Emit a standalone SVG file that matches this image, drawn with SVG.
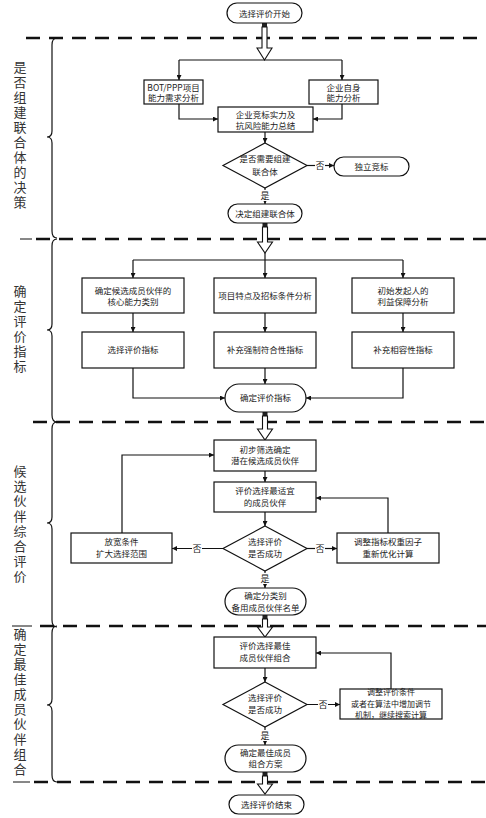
<svg xmlns="http://www.w3.org/2000/svg" width="486" height="818" viewBox="0 0 486 818">
<defs>
<marker id="ah" viewBox="0 0 10 10" refX="10" refY="5" markerWidth="6" markerHeight="5" markerUnits="userSpaceOnUse" orient="auto">
<path d="M0,0 L10,5 L0,10 z" fill="#111"/>
</marker>
</defs>
<style>
.box{fill:#fff;stroke:#111;stroke-width:1.2}
.t{font-family:"Noto Sans CJK SC","Liberation Serif",serif;font-size:8.5px;fill:#222;text-anchor:middle}
.t3{font-family:"Noto Sans CJK SC","Liberation Serif",serif;font-size:8px;fill:#222;text-anchor:middle}
.lab{font-family:"Noto Sans CJK SC","Liberation Serif",serif;font-size:9px;fill:#222;text-anchor:middle}
.sec{font-family:"Noto Sans CJK SC","Liberation Serif",serif;font-size:13px;fill:#333;writing-mode:vertical-rl;letter-spacing:2px}
.c{fill:none;stroke:#111;stroke-width:1.2}
.ca{fill:none;stroke:#111;stroke-width:1.2;marker-end:url(#ah)}
.dash{fill:none;stroke:#111;stroke-width:2.6;stroke-dasharray:14 9}
.thin{fill:none;stroke:#111;stroke-width:1}
.brace{fill:none;stroke:#111;stroke-width:1.2}
.hol{fill:#fff;stroke:#111;stroke-width:1.1}
.dk{fill:#222}
</style>

<g id="separators">
<line class="dash" x1="26" y1="38" x2="486" y2="38"/>
<line class="thin" x1="20" y1="239" x2="32" y2="239"/>
<line class="dash" x1="36" y1="239" x2="486" y2="239"/>
<line class="dash" x1="33" y1="422" x2="486" y2="422"/>
<line class="thin" x1="12" y1="626" x2="32" y2="626"/>
<line class="dash" x1="40" y1="626" x2="486" y2="626"/>
<line class="thin" x1="13" y1="782" x2="30" y2="782"/>
<line class="dash" x1="34" y1="782" x2="486" y2="782"/>
</g>

<g id="braces">
<path class="brace" d="M57,38 Q52,38 52,45 L52,131 Q52,137 47,137 Q52,137 52,143 L52,231 Q52,238 57,238"/>
<path class="brace" d="M57,239 Q52,239 52,246 L52,324 Q52,330 47,330 Q52,330 52,336 L52,415 Q52,422 57,422"/>
<path class="brace" d="M57,422 Q52,422 52,429 L52,517 Q52,523 47,523 Q52,523 52,529 L52,620 Q52,627 57,627"/>
<path class="brace" d="M57,626 Q52,626 52,633 L52,699 Q52,705 47,705 Q52,705 52,711 L52,775 Q52,782 57,782"/>
</g>

<g id="section-labels">
<text class="sec" x="20" y="61">是否组建联合体的决策</text>
<text class="sec" x="20" y="285">确定评价指标</text>
<text class="sec" x="20" y="465">候选伙伴综合评价</text>
<text class="sec" x="20" y="628">确定最佳成员伙伴组合</text>
</g>

<g id="connectors">
<rect class="dk" x="262" y="23" width="5" height="4"/>
<polygon class="hol" points="262,27 267,27 267,48 272,48 264.5,60 257,48 262,48"/>
<rect class="dk" x="262.5" y="223" width="5" height="4"/>
<polygon class="hol" points="262.5,227 267.5,227 267.5,242 272.5,242 265,253 257.5,242 262.5,242"/>
<rect class="dk" x="262.5" y="412" width="5" height="4"/>
<polygon class="hol" points="262.5,416 267.5,416 267.5,429 272.5,429 265,440 257.5,429 262.5,429"/>
<rect class="dk" x="262.5" y="615" width="5" height="4"/>
<polygon class="hol" points="262.5,619 267.5,619 267.5,627 272.5,627 265,637 257.5,627 262.5,627"/>
<rect class="dk" x="262.5" y="772" width="5" height="4"/>
<polygon class="hol" points="262.5,776 267.5,776 267.5,784 272.5,784 265,794 257.5,784 262.5,784"/>

<line class="c" x1="179" y1="60" x2="342" y2="60"/>
<line class="ca" x1="179" y1="60" x2="179" y2="80"/>
<line class="ca" x1="342" y1="60" x2="342" y2="80"/>
<path class="ca" d="M179,104 V119 H218"/>
<path class="ca" d="M342,104 V119 H313"/>
<line class="ca" x1="265" y1="132" x2="265" y2="143"/>
<line class="ca" x1="307" y1="165.5" x2="334" y2="165.5"/>
<line class="ca" x1="265" y1="188" x2="265" y2="204"/>

<line class="c" x1="133" y1="260" x2="403" y2="260"/>
<line class="ca" x1="133" y1="260" x2="133" y2="278"/>
<line class="ca" x1="265" y1="253" x2="265" y2="278"/>
<line class="ca" x1="403" y1="260" x2="403" y2="278"/>
<line class="ca" x1="133" y1="313" x2="133" y2="332"/>
<line class="ca" x1="265" y1="313" x2="265" y2="332"/>
<line class="ca" x1="403" y1="313" x2="403" y2="332"/>
<line class="ca" x1="265" y1="368" x2="265" y2="384"/>
<path class="ca" d="M133,368 V398 H225"/>
<path class="ca" d="M403,368 V398 H306"/>

<line class="ca" x1="265" y1="471" x2="265" y2="482"/>
<line class="ca" x1="265" y1="512" x2="265" y2="526"/>
<line class="ca" x1="223" y1="548.5" x2="172" y2="548.5"/>
<line class="ca" x1="307" y1="548.5" x2="337" y2="548.5"/>
<path class="ca" d="M122,533 V455 H214"/>
<path class="ca" d="M388,533 V498 H316"/>
<line class="ca" x1="265" y1="571" x2="265" y2="588"/>

<line class="ca" x1="265" y1="668" x2="265" y2="682"/>
<line class="ca" x1="307" y1="704.5" x2="340" y2="704.5"/>
<path class="ca" d="M391,689 V653 H316"/>
<line class="ca" x1="265" y1="727" x2="265" y2="745"/>

<rect x="315" y="159" width="10" height="12" fill="#fff"/>
<text class="lab" x="320" y="168.5">否</text>
<rect x="260" y="190" width="10" height="11" fill="#fff"/>
<text class="lab" x="265" y="198.5">是</text>
<rect x="192" y="542" width="10" height="12" fill="#fff"/>
<text class="lab" x="197" y="551.5">否</text>
<rect x="315" y="542" width="10" height="12" fill="#fff"/>
<text class="lab" x="320" y="551.5">否</text>
<rect x="260" y="573" width="10" height="11" fill="#fff"/>
<text class="lab" x="265" y="582">是</text>
<rect x="318" y="698" width="10" height="12" fill="#fff"/>
<text class="lab" x="323" y="707.5">否</text>
<rect x="260" y="730" width="10" height="11" fill="#fff"/>
<text class="lab" x="265" y="739">是</text>
</g>

<g id="start">
<rect class="box" x="227" y="3" width="75" height="20" rx="10"/>
<text class="t" x="264.5" y="16.5">选择评价开始</text>
</g>

<g id="bot-analysis">
<rect class="box" x="144" y="80" width="59" height="24"/>
<text class="t" x="173.5" y="90.5">BOT/PPP项目</text>
<text class="t" x="173.5" y="101">能力需求分析</text>
</g>
<g id="self-analysis">
<rect class="box" x="309" y="80" width="69" height="24"/>
<text class="t" x="343.5" y="90.5">企业自身</text>
<text class="t" x="343.5" y="101">能力分析</text>
</g>
<g id="summary">
<rect class="box" x="218" y="107" width="95" height="25"/>
<text class="t" x="265.5" y="117.5">企业竞标实力及</text>
<text class="t" x="265.5" y="128.5">抗风险能力总结</text>
</g>
<g id="need-consortium">
<polygon class="box" points="265,143 307,165.5 265,188 223,165.5"/>
<text class="t" x="265" y="161.5">是否需要组建</text>
<text class="t" x="265" y="175">联合体</text>
</g>
<g id="independent">
<rect class="box" x="334" y="157" width="75" height="19" rx="9.5"/>
<text class="t" x="371.5" y="169.5">独立竞标</text>
</g>
<g id="decide-consortium">
<rect class="box" x="228" y="204" width="74" height="19" rx="9.5"/>
<text class="t" x="265" y="216.5">决定组建联合体</text>
</g>

<g id="core-ability">
<rect class="box" x="82" y="278" width="102" height="35"/>
<text class="t" x="133" y="294">确定候选成员伙伴的</text>
<text class="t" x="133" y="305">核心能力类别</text>
</g>
<g id="project-features">
<rect class="box" x="214" y="278" width="102" height="35"/>
<text class="t" x="265" y="299">项目特点及招标条件分析</text>
</g>
<g id="initiator-interest">
<rect class="box" x="352" y="278" width="102" height="35"/>
<text class="t" x="403" y="294">初始发起人的</text>
<text class="t" x="403" y="305">利益保障分析</text>
</g>
<g id="select-index">
<rect class="box" x="82" y="332" width="102" height="36"/>
<text class="t" x="133" y="353">选择评价指标</text>
</g>
<g id="mandatory-index">
<rect class="box" x="214" y="332" width="102" height="36"/>
<text class="t" x="265" y="353">补充强制符合性指标</text>
</g>
<g id="compat-index">
<rect class="box" x="352" y="332" width="102" height="36"/>
<text class="t" x="403" y="353">补充相容性指标</text>
</g>
<g id="determine-index">
<rect class="box" x="225" y="384" width="81" height="28" rx="14"/>
<text class="t" x="265.5" y="401">确定评价指标</text>
</g>

<g id="prescreen">
<rect class="box" x="214" y="440" width="102" height="31"/>
<text class="t" x="265" y="452.5">初步筛选确定</text>
<text class="t" x="265" y="464">潜在候选成员伙伴</text>
</g>
<g id="evaluate-best">
<rect class="box" x="214" y="482" width="102" height="30"/>
<text class="t" x="265" y="494">评价选择最适宜</text>
<text class="t" x="265" y="505.5">的成员伙伴</text>
</g>
<g id="success1">
<polygon class="box" points="265,526 307,548.5 265,571 223,548.5"/>
<text class="t" x="265" y="545">选择评价</text>
<text class="t" x="265" y="556.5">是否成功</text>
</g>
<g id="relax">
<rect class="box" x="71" y="533" width="101" height="30"/>
<text class="t" x="121.5" y="545">放宽条件</text>
<text class="t" x="121.5" y="556.5">扩大选择范围</text>
</g>
<g id="adjust-weight">
<rect class="box" x="337" y="533" width="102" height="30"/>
<text class="t" x="388" y="545">调整指标权重因子</text>
<text class="t" x="388" y="556.5">重新优化计算</text>
</g>
<g id="backup-list">
<rect class="box" x="225" y="588" width="81" height="27" rx="13.5"/>
<text class="t" x="265.5" y="598.5">确定分类别</text>
<text class="t" x="265.5" y="611">备用成员伙伴名单</text>
</g>

<g id="evaluate-combo">
<rect class="box" x="214" y="637" width="102" height="31"/>
<text class="t" x="265" y="649">评价选择最佳</text>
<text class="t" x="265" y="661">成员伙伴组合</text>
</g>
<g id="success2">
<polygon class="box" points="265,682 307,704.5 265,727 223,704.5"/>
<text class="t" x="265" y="701">选择评价</text>
<text class="t" x="265" y="712.5">是否成功</text>
</g>
<g id="adjust-conditions">
<rect class="box" x="340" y="689" width="102" height="30"/>
<text class="t3" x="391" y="695">调整评价条件</text>
<text class="t3" x="391" y="706.5">或者在算法中增加调节</text>
<text class="t3" x="391" y="718">机制，继续搜索计算</text>
</g>
<g id="best-plan">
<rect class="box" x="225" y="745" width="81" height="27" rx="13.5"/>
<text class="t" x="265.5" y="755.5">确定最佳成员</text>
<text class="t" x="265.5" y="766.5">组合方案</text>
</g>
<g id="end">
<rect class="box" x="229" y="795" width="75" height="19" rx="9.5"/>
<text class="t" x="266.5" y="807.5">选择评价结束</text>
</g>
</svg>
